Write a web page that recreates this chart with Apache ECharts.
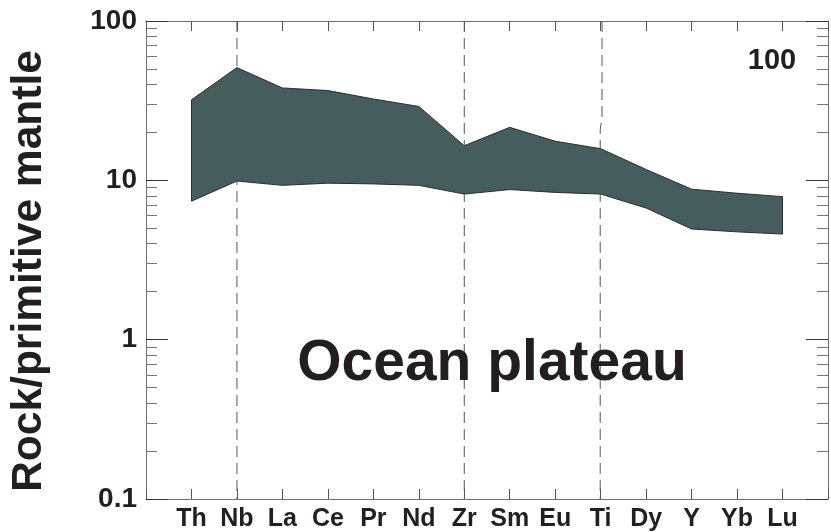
<!DOCTYPE html>
<html>
<head>
<meta charset="utf-8">
<script src="https://cdn.jsdelivr.net/npm/echarts@6/dist/echarts.min.js"></script>
<style>
  html, body { margin: 0; padding: 0; background: #fff; }
  #chart { width: 831px; height: 532px; }
</style>
</head>
<body>
<div id="chart"></div>
<script>
// Normalised trace-element pattern (rock / primitive mantle), envelope of the field
const elements = ['Th', 'Nb', 'La', 'Ce', 'Pr', 'Nd', 'Zr', 'Sm', 'Eu', 'Ti', 'Dy', 'Y', 'Yb', 'Lu'];
const upperValues = [32, 51, 38, 36.6, 32.4, 29.1, 16.5, 21.5, 17.6, 15.8, 11.7, 8.8, 8.3, 7.9];
const lowerValues = [7.4, 9.9, 9.3, 9.6, 9.5, 9.3, 8.2, 8.75, 8.4, 8.2, 6.7, 4.95, 4.75, 4.6];

// Log-axis ticks
const majorTicks = [0.1, 1, 10, 100];
const minorTicks = [0.2, 0.3, 0.4, 0.5, 0.6, 0.7, 0.8, 0.9,
                    2, 3, 4, 5, 6, 7, 8, 9,
                    20, 30, 40, 50, 60, 70, 80, 90];
const tickLabels = ['0.1', '1', '10', '100'];

// Reference elements marked with dashed verticals
const guideElements = ['Nb', 'Zr', 'Ti'];

const FONT = '"Liberation Sans", Arial, Helvetica, sans-serif';
const INK = '#231f20';
const FILL = '#465d5e';

const chart = echarts.init(document.getElementById('chart'), null, { renderer: 'canvas' });

const xPos = name => elements.indexOf(name) + 1;

function logAxis(position, withLabels, minor) {
  return {
    type: 'log',
    logBase: 10,
    min: 0.1,
    max: 100,
    position: position,
    axisLine: { show: !minor, onZero: false, lineStyle: { color: '#6f6f6f', width: 1 } },
    axisTick: {
      show: true,
      inside: true,
      length: minor ? 11 : 22,
      customValues: minor ? minorTicks : majorTicks,
      lineStyle: { color: minor ? '#777' : '#333', width: 1 }
    },
    minorTick: { show: false },
    splitLine: { show: false },
    axisLabel: {
      show: withLabels,
      customValues: majorTicks,
      margin: 9,
      formatter: v => tickLabels[majorTicks.findIndex(t => Math.abs(t - v) / t < 1e-6)] || '',
      fontFamily: FONT,
      fontWeight: 'bold',
      fontSize: 28,
      color: INK
    }
  };
}

function elementAxis(position, withLabels) {
  return {
    type: 'value',
    min: 0,
    max: elements.length + 1,
    interval: 1,
    position: position,
    axisLine: { show: true, onZero: false, lineStyle: { color: '#6f6f6f', width: 1 } },
    axisTick: { show: true, inside: true, length: 10, lineStyle: { color: '#555', width: 1 } },
    splitLine: { show: false },
    axisLabel: {
      show: withLabels,
      margin: 8,
      formatter: v => elements[v - 1] || '',
      fontFamily: FONT,
      fontWeight: 'bold',
      fontSize: 25,
      color: INK
    }
  };
}

// Guide lines at selected elements (Ti line carries a small jog near the top)
const guideSeries = guideElements.map(name => {
  const x = xPos(name);
  const data = name === 'Ti'
    ? [[x + 0.03, 100], [x + 0.03, 24.8], [x - 0.01, 20.8], [x - 0.01, 0.1]]
    : [[x, 100], [x, 0.1]];
  return {
    type: 'line',
    xAxisIndex: 0,
    yAxisIndex: 0,
    data: data,
    symbol: 'none',
    silent: true,
    z: 1,
    lineStyle: { color: '#555', width: 1, type: [11, 6] }
  };
});

const option = {
  animation: false,
  backgroundColor: '#ffffff',
  grid: { left: 146, right: -1, top: 21, bottom: 31, containLabel: false },
  xAxis: [elementAxis('bottom', true), elementAxis('top', false)],
  yAxis: [
    logAxis('left', true, false),
    logAxis('left', false, true),
    logAxis('right', false, false),
    logAxis('right', false, true)
  ],
  series: guideSeries.concat([{
    type: 'custom',
    xAxisIndex: 0,
    yAxisIndex: 0,
    z: 3,
    data: [0],
    renderItem: function (params, api) {
      const pts = [];
      upperValues.forEach((v, i) => pts.push(api.coord([i + 1, v])));
      for (let i = lowerValues.length - 1; i >= 0; i--) {
        pts.push(api.coord([i + 1, lowerValues[i]]));
      }
      return {
        type: 'polygon',
        shape: { points: pts },
        style: { fill: FILL, stroke: '#2b2b2b', lineWidth: 1 }
      };
    }
  }]),
  graphic: [
    {
      type: 'text',
      x: 29, y: 271,
      rotation: Math.PI / 2,
      style: {
        text: 'Rock/primitive mantle',
        font: 'bold 42.5px ' + FONT,
        fill: INK,
        align: 'center',
        verticalAlign: 'middle'
      }
    },
    {
      type: 'text',
      x: 492, y: 364,
      z: 10,
      style: {
        text: 'Ocean plateau',
        font: 'bold 57px ' + FONT,
        fill: INK,
        align: 'center',
        verticalAlign: 'middle'
      }
    },
    {
      type: 'text',
      x: 772, y: 61,
      style: {
        text: '100',
        font: 'bold 29px ' + FONT,
        fill: INK,
        align: 'center',
        verticalAlign: 'middle'
      }
    }
  ]
};

chart.setOption(option);
</script>
</body>
</html>
